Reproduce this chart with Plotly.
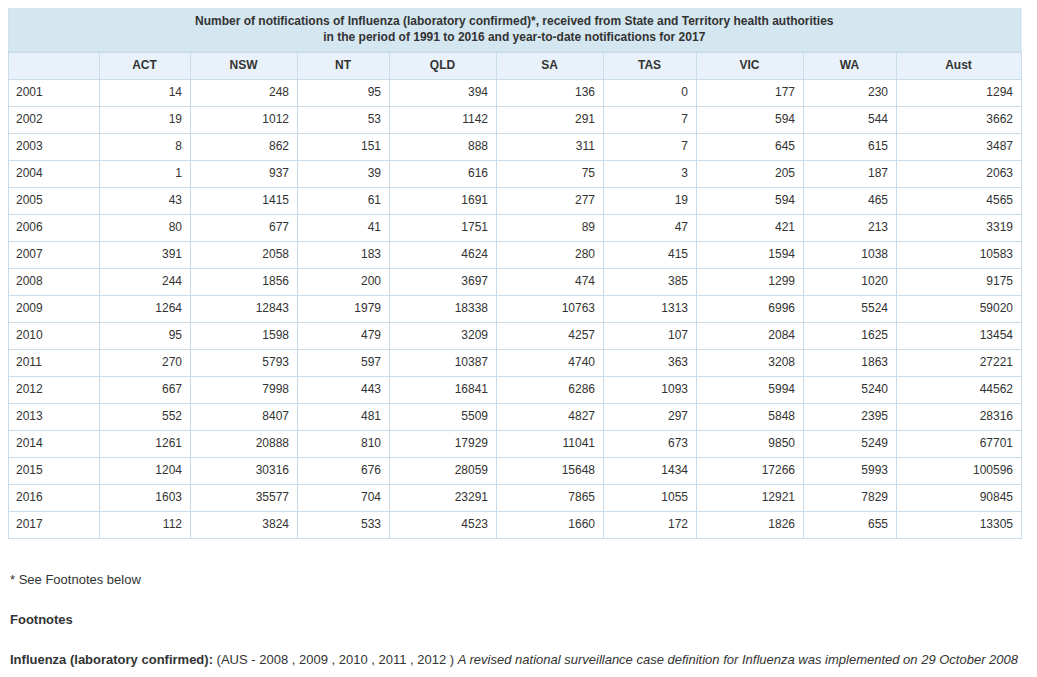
import plotly.graph_objects as go

# page body has an 8px margin; figure fills the rest of the 1037x677 window
OFF = 8
W, H = 1037 - 2 * OFF, 677 - 2 * OFF

years = ["2001", "2002", "2003", "2004", "2005", "2006", "2007", "2008", "2009",
         "2010", "2011", "2012", "2013", "2014", "2015", "2016", "2017"]
columns = [" ", "ACT", "NSW", "NT", "QLD", "SA", "TAS", "VIC", "WA", "Aust"]

act = [14, 19, 8, 1, 43, 80, 391, 244, 1264, 95, 270, 667, 552, 1261, 1204, 1603, 112]
nsw = [248, 1012, 862, 937, 1415, 677, 2058, 1856, 12843, 1598, 5793, 7998, 8407, 20888, 30316, 35577, 3824]
nt = [95, 53, 151, 39, 61, 41, 183, 200, 1979, 479, 597, 443, 481, 810, 676, 704, 533]
qld = [394, 1142, 888, 616, 1691, 1751, 4624, 3697, 18338, 3209, 10387, 16841, 5509, 17929, 28059, 23291, 4523]
sa = [136, 291, 311, 75, 277, 89, 280, 474, 10763, 4257, 4740, 6286, 4827, 11041, 15648, 7865, 1660]
tas = [0, 7, 7, 3, 19, 47, 415, 385, 1313, 107, 363, 1093, 297, 673, 1434, 1055, 172]
vic = [177, 594, 645, 205, 594, 421, 1594, 1299, 6996, 2084, 3208, 5994, 5848, 9850, 17266, 12921, 1826]
wa = [230, 544, 615, 187, 465, 213, 1038, 1020, 5524, 1625, 1863, 5240, 2395, 5249, 5993, 7829, 655]
aust = [1294, 3662, 3487, 2063, 4565, 3319, 10583, 9175, 59020, 13454, 27221, 44562, 28316, 67701, 100596, 90845, 13305]

title_lines = [
    "Number of notifications of Influenza (laboratory confirmed)*, received from State and Territory health authorities",
    "in the period of 1991 to 2016 and year-to-date notifications for 2017",
]
note1 = "* See Footnotes below"
note2 = "Footnotes"
note3_bold = "Influenza (laboratory confirmed):"
note3_plain = "(AUS - 2008 , 2009 , 2010 , 2011 , 2012 )"
note3_italic = "A revised national surveillance case definition for Influenza was implemented on 29 October 2008"

col_widths = [91, 91, 107, 92, 107, 107, 93, 107, 93, 125]

FONT = "Liberation Sans, Arial, sans-serif"
TXT = "#333333"
BORDER = "#c8dcea"
TITLE_BG = "#d4e6f0"
HEAD_BG = "#e9f2fa"


def px(p):
    return (p - OFF) / W


def py(p):
    return 1 - (p - OFF) / H


x0, x1 = px(8), px(1021)

fig = go.Figure()

data_cols = [[str(v) for v in c] for c in [years, act, nsw, nt, qld, sa, tas, vic, wa, aust]]
fig.add_trace(go.Table(
    domain=dict(x=[x0, x1], y=[py(560), py(52)]),
    columnwidth=col_widths,
    header=dict(
        values=columns,
        fill=dict(color=HEAD_BG),
        line=dict(color=BORDER, width=1),
        align="center",
        height=27,
        font=dict(family=FONT, size=12, color=TXT, weight="bold"),
    ),
    cells=dict(
        values=data_cols,
        fill=dict(color="white"),
        line=dict(color=BORDER, width=1),
        align=["left"] + ["right"] * 9,
        height=27,
        font=dict(family=FONT, size=12, color=TXT),
    ),
))

# merged title row
fig.add_shape(type="rect", xref="paper", yref="paper",
              x0=x0, x1=x1, y0=py(52), y1=py(6),
              fillcolor=TITLE_BG, line=dict(color=BORDER, width=1), layer="below")
fig.add_annotation(
    x=(x0 + x1) / 2, y=py(29), xref="paper", yref="paper",
    xanchor="center", yanchor="middle", showarrow=False, align="center",
    text="<b>" + title_lines[0] + "</b><br><b>" + title_lines[1] + "</b>",
    font=dict(family=FONT, size=12, color=TXT),
)

notes = [
    (579, note1),
    (619, "<b>" + note2 + "</b>"),
    (659, "<b>" + note3_bold + "</b> " + note3_plain + " <i>" + note3_italic + "</i>"),
]
for ypx, txt in notes:
    fig.add_annotation(
        x=x0, y=py(ypx), xref="paper", yref="paper",
        xanchor="left", yanchor="middle", showarrow=False,
        text=txt, font=dict(family=FONT, size=13, color=TXT),
    )

fig.update_layout(
    width=W, height=H,
    margin=dict(l=0, r=0, t=0, b=0),
    paper_bgcolor="white", plot_bgcolor="white",
    showlegend=False,
)

fig.write_html("out.html")
